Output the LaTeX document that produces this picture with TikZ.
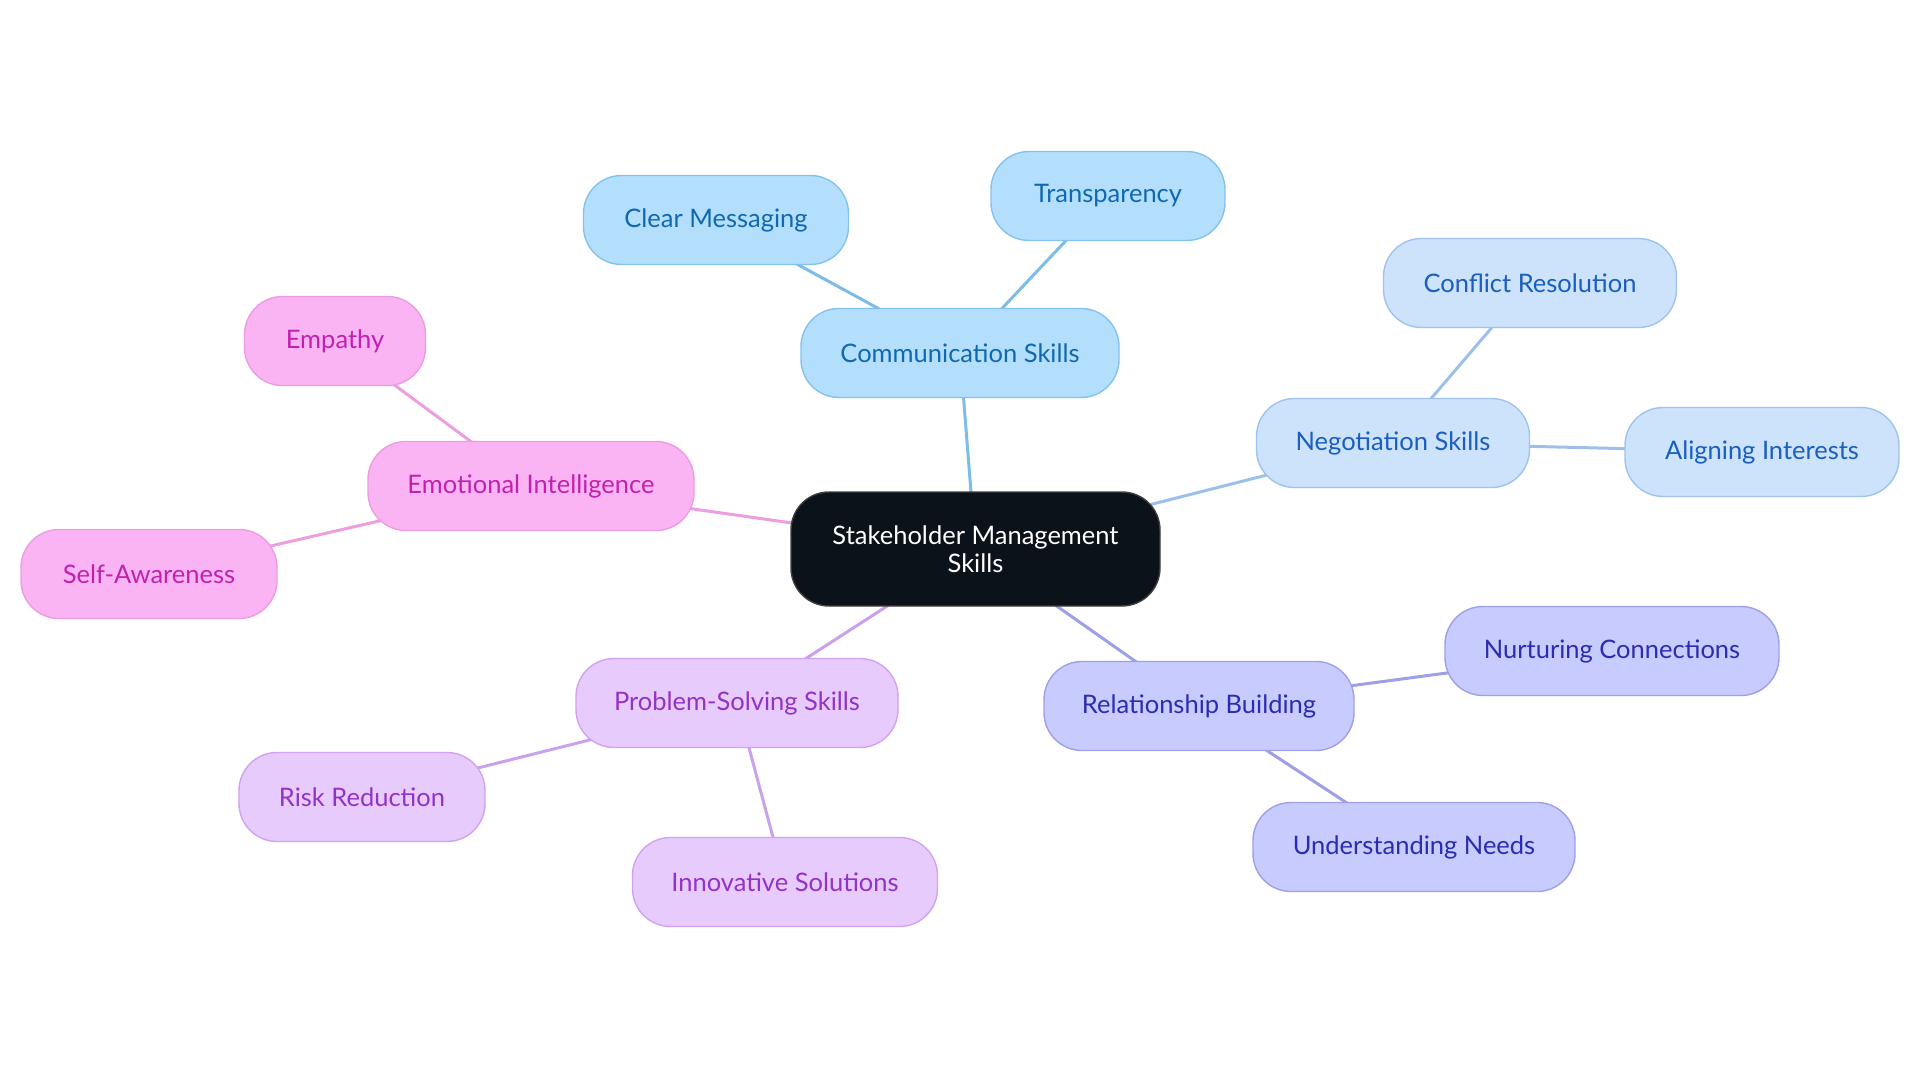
\documentclass[tikz,border=0pt]{standalone}
\usepackage{fontspec}
\setmainfont{Lato}
\usetikzlibrary{backgrounds}
\definecolor{bluefill}{HTML}{B3DFFD}\definecolor{bluedraw}{HTML}{84C2EE}\definecolor{bluetext}{HTML}{1068B0}\definecolor{blueline}{HTML}{7DBCE8}
\definecolor{lbfill}{HTML}{CDE3FC}\definecolor{lbdraw}{HTML}{9DC3EE}\definecolor{lbtext}{HTML}{1A5EC0}\definecolor{lbline}{HTML}{9BC0EA}
\definecolor{pkfill}{HTML}{FBB4F3}\definecolor{pkdraw}{HTML}{EC9CE2}\definecolor{pktext}{HTML}{C021AE}\definecolor{pkline}{HTML}{EC9EDE}
\definecolor{pufill}{HTML}{E8CBFD}\definecolor{pudraw}{HTML}{D2A2F0}\definecolor{putext}{HTML}{9232C6}\definecolor{puline}{HTML}{C9A1EC}
\definecolor{infill}{HTML}{C8CBFD}\definecolor{indraw}{HTML}{9EA0E8}\definecolor{intext}{HTML}{2C2CB0}\definecolor{inline}{HTML}{9D9FE8}
\definecolor{rootfill}{HTML}{0B121A}
\tikzset{
  base/.style={rounded corners=38pt, minimum height=89pt, inner sep=0pt, line width=1.4pt, font=\fontsize{25.5}{28}\selectfont, align=center},
  bluebox/.style={base, fill=bluefill, draw=bluedraw, text=bluetext},
  lbbox/.style={base, fill=lbfill, draw=lbdraw, text=lbtext},
  pkbox/.style={base, fill=pkfill, draw=pkdraw, text=pktext},
  pubox/.style={base, fill=pufill, draw=pudraw, text=putext},
  inbox/.style={base, fill=infill, draw=indraw, text=intext},
  rootbox/.style={base, minimum height=114pt, fill=rootfill, draw=black!75, text=white},
  conn/.style={line width=3pt}
}
\begin{document}
\begin{tikzpicture}[x=1pt,y=-1pt]
\useasboundingbox (0,0) rectangle (1920,1083);
\node[rootbox, minimum width=369pt] (root) at (975.5,549) {Stakeholder Management\\Skills};
\node[bluebox, minimum width=318pt] (comm) at (960,353) {Communication Skills};
\node[bluebox, minimum width=265pt] (clear) at (716,220) {Clear Messaging};
\node[bluebox, minimum width=234pt] (trans) at (1108,196) {Transparency};
\node[lbbox, minimum width=273pt] (nego) at (1393,443) {Negotiation Skills};
\node[lbbox, minimum width=293pt] (conf) at (1530,283) {Conflict Resolution};
\node[lbbox, minimum width=274pt] (align) at (1762,452) {Aligning Interests};
\node[pkbox, minimum width=326pt] (emo) at (531,486) {Emotional Intelligence};
\node[pkbox, minimum width=181pt] (emp) at (335,341) {Empathy};
\node[pkbox, minimum width=256pt] (self) at (149,574) {Self-Awareness};
\node[pubox, minimum width=322pt] (prob) at (737,703) {Problem-Solving Skills};
\node[pubox, minimum width=246pt] (risk) at (362,797) {Risk Reduction};
\node[pubox, minimum width=305pt] (innov) at (785,882) {Innovative Solutions};
\node[inbox, minimum width=310pt] (rel) at (1199,706) {Relationship Building};
\node[inbox, minimum width=334pt] (nurt) at (1612,651) {Nurturing Connections};
\node[inbox, minimum width=322pt] (under) at (1414,847) {Understanding Needs};
\begin{scope}[on background layer]
\draw[conn, blueline] (root.center) -- (comm.center);
\draw[conn, blueline] (comm.center) -- (clear.center);
\draw[conn, blueline] (comm.center) -- (trans.center);
\draw[conn, lbline] (root.center) -- (nego.center);
\draw[conn, lbline] (nego.center) -- (conf.center);
\draw[conn, lbline] (nego.center) -- (align.center);
\draw[conn, pkline] (root.center) -- (emo.center);
\draw[conn, pkline] (emo.center) -- (emp.center);
\draw[conn, pkline] (emo.center) -- (self.center);
\draw[conn, puline] (root.center) -- (prob.center);
\draw[conn, puline] (prob.center) -- (risk.center);
\draw[conn, puline] (prob.center) -- (innov.center);
\draw[conn, inline] (root.center) -- (rel.center);
\draw[conn, inline] (rel.center) -- (nurt.center);
\draw[conn, inline] (rel.center) -- (under.center);
\end{scope}
\end{tikzpicture}
\end{document}
